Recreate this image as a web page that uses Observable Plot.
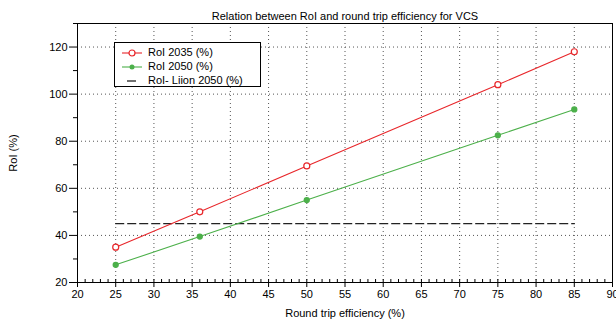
<!DOCTYPE html>
<html><head><meta charset="utf-8">
<script src="https://cdn.jsdelivr.net/npm/d3@7"></script>
<script src="https://cdn.jsdelivr.net/npm/@observablehq/plot@0.6"></script>
<style>
body{margin:0;background:#fff;font-family:"Liberation Sans",Arial,sans-serif;}
#wrap{position:relative;width:616px;height:323px;}
#legend{position:absolute;left:114px;top:42px;width:145px;height:43px;border:1px solid #000;background:#fff;font-size:11px;color:#000;}
#legend .row{position:absolute;left:6px;height:14px;line-height:14px;white-space:nowrap;}
#legend svg{vertical-align:middle;margin-right:5px;}
</style>
</head><body>
<div id="wrap"></div>
<script>
const efficiency = [25, 36, 50, 75, 85];
const roi2035 = [35, 50, 69.5, 104, 118];
const roi2050 = [27.5, 39.5, 55, 82.5, 93.5];
const liionX = [25, 85];
const liionRoi = [45, 45];
const xTicks = [20,25,30,35,40,45,50,55,60,65,70,75,80,85,90];
const yTicks = [20,40,60,80,100,120];
const seriesNames = ["RoI 2035 (%)", "RoI 2050 (%)", "RoI- Liion 2050 (%)"];
const title = "Relation between RoI and round trip efficiency for VCS";

const red = "#e8262a", green = "#4cb04a", dark = "#222";
const d35 = efficiency.map((x,i)=>({x, y: roi2035[i]}));
const d50 = efficiency.map((x,i)=>({x, y: roi2050[i]}));
const dLi = liionX.map((x,i)=>({x, y: liionRoi[i]}));
const xMinor = d3.range(20, 91, 1);
const yMinor = d3.range(30, 131, 20);
const gridX = xTicks.filter(t => t > 20 && t < 90);
const gridY = yTicks.filter(t => t > 20);

const plot = Plot.plot({
  width: 616, height: 323,
  marginLeft: 77, marginRight: 4, marginTop: 23, marginBottom: 41,
  style: {fontFamily: '"Liberation Sans", Arial, sans-serif', fontSize: "11px", color: "#000", background: "#fff"},
  x: {domain: [20, 90]},
  y: {domain: [20, 130]},
  marks: [
    Plot.ruleX(gridX, {stroke: "#555", strokeDasharray: "1,3", strokeWidth: 1}),
    Plot.ruleY(gridY, {stroke: "#555", strokeDasharray: "1,3", strokeWidth: 1}),
    Plot.axisX({ticks: xMinor, tickSize: -3, text: null, label: null, stroke: "#000"}),
    Plot.axisX({ticks: xTicks, tickSize: 5, tickPadding: 3, label: "Round trip efficiency (%)", labelAnchor: "center", labelArrow: "none", labelOffset: 34, fill: "#000", stroke: "#000"}),
    Plot.axisY({ticks: yMinor, tickSize: 4, text: null, label: null, stroke: "#000"}),
    Plot.axisY({ticks: yTicks, tickSize: 8, tickPadding: 2, label: "RoI (%)", labelAnchor: "center", labelArrow: "none", labelOffset: 68, fill: "#000", stroke: "#000"}),
    Plot.frame({stroke: "#000", strokeWidth: 1}),
    Plot.line(dLi, {x: "x", y: "y", stroke: dark, strokeWidth: 1.3, strokeDasharray: "8,4"}),
    Plot.line(d35, {x: "x", y: "y", stroke: red, strokeWidth: 1.1}),
    Plot.line(d50, {x: "x", y: "y", stroke: green, strokeWidth: 1.1}),
    Plot.dot(d35, {x: "x", y: "y", r: 3, stroke: red, fill: "#fff", strokeWidth: 1.2}),
    Plot.dot(d50, {x: "x", y: "y", r: 2.4, fill: green, stroke: green}),
    Plot.text([title], {frameAnchor: "top", dy: -11, fontSize: 11, fill: "#000"})
  ]
});
const wrap = document.getElementById("wrap");
wrap.appendChild(plot);

const legend = document.createElement("div");
legend.id = "legend";
const sw = [
  `<svg width="22" height="10"><line x1="1" y1="5" x2="21" y2="5" stroke="${red}" stroke-width="1.1"/><circle cx="11" cy="5" r="3" fill="#fff" stroke="${red}" stroke-width="1.2"/></svg>`,
  `<svg width="22" height="10"><line x1="1" y1="5" x2="21" y2="5" stroke="${green}" stroke-width="1.1"/><circle cx="11" cy="5" r="2.5" fill="${green}"/></svg>`,
  `<svg width="22" height="10"><line x1="6" y1="5" x2="15" y2="5" stroke="${dark}" stroke-width="1.3"/></svg>`
];
seriesNames.forEach((n,i)=>{
  const r = document.createElement("div");
  r.className = "row";
  r.style.top = (2 + i*14) + "px";
  r.innerHTML = sw[i] + n;
  legend.appendChild(r);
});
wrap.appendChild(legend);
</script>
</body></html>
